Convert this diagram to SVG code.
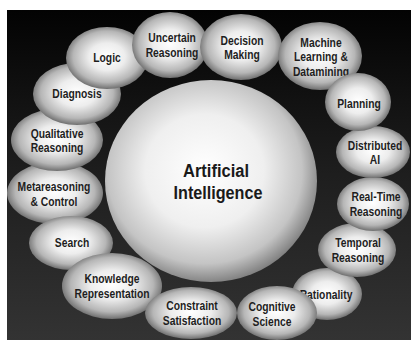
<svg xmlns="http://www.w3.org/2000/svg" width="411" height="340" viewBox="0 0 411 340">
<defs>
<linearGradient id="bg" x1="0" y1="0" x2="0" y2="1">
<stop offset="0" stop-color="#030303"/>
<stop offset="0.5" stop-color="#1e1e1e"/>
<stop offset="1" stop-color="#333333"/>
</linearGradient>
<radialGradient id="eg" cx="0.5" cy="0.48" r="0.55">
<stop offset="0" stop-color="#ffffff"/>
<stop offset="0.4" stop-color="#ededed"/>
<stop offset="0.75" stop-color="#b6b6b6"/>
<stop offset="1" stop-color="#5c5c5c"/>
</radialGradient>
<radialGradient id="cg" cx="0.47" cy="0.45" r="0.56">
<stop offset="0" stop-color="#ffffff"/>
<stop offset="0.5" stop-color="#efefef"/>
<stop offset="0.82" stop-color="#c4c4c4"/>
<stop offset="1" stop-color="#7e7e7e"/>
</radialGradient>
</defs>
<style>
.n{fill:url(#eg);}
.t{font-family:"Liberation Sans",Arial,sans-serif;font-weight:bold;font-size:12px;fill:#1e1e1e;text-anchor:middle;}
.c{font-family:"Liberation Sans",Arial,sans-serif;font-weight:bold;font-size:18px;fill:#1a1a1a;text-anchor:middle;}
</style>
<rect x="0" y="0" width="411" height="340" fill="#ffffff"/>
<rect x="7" y="10" width="404" height="330" fill="url(#bg)"/>
<g id="connectors"/>
<g id="center">
<ellipse cx="211" cy="181" rx="106" ry="101" fill="url(#cg)"/>
<text class="c" x="216" y="177" textLength="66" lengthAdjust="spacingAndGlyphs">Artificial</text>
<text class="c" x="218" y="199" textLength="89" lengthAdjust="spacingAndGlyphs">Intelligence</text>
</g>
<g id="metareasoning">
<ellipse class="n" cx="55" cy="193" rx="48" ry="31"/>
<text class="t" transform="translate(54 191) scale(0.86 1)">Metareasoning</text>
<text class="t" transform="translate(54 206) scale(0.86 1)">&amp; Control</text>
</g>
<g id="search">
<ellipse class="n" cx="71" cy="243" rx="42" ry="27"/>
<text class="t" transform="translate(72 247) scale(0.86 1)">Search</text>
</g>
<g id="knowledge">
<ellipse class="n" cx="112" cy="286" rx="50" ry="33"/>
<text class="t" transform="translate(112 283) scale(0.86 1)">Knowledge</text>
<text class="t" transform="translate(112 298) scale(0.86 1)">Representation</text>
</g>
<g id="constraint">
<ellipse class="n" cx="191" cy="313" rx="46" ry="26"/>
<text class="t" transform="translate(192 310) scale(0.86 1)">Constraint</text>
<text class="t" transform="translate(192 325) scale(0.86 1)">Satisfaction</text>
</g>
<g id="qualitative">
<ellipse class="n" cx="57" cy="140" rx="46" ry="31"/>
<text class="t" transform="translate(57 138) scale(0.86 1)">Qualitative</text>
<text class="t" transform="translate(57 152) scale(0.86 1)">Reasoning</text>
</g>
<g id="diagnosis">
<ellipse class="n" cx="77" cy="94" rx="44" ry="31"/>
<text class="t" transform="translate(77 98) scale(0.86 1)">Diagnosis</text>
</g>
<g id="logic">
<ellipse class="n" cx="107" cy="58" rx="41" ry="31"/>
<text class="t" transform="translate(107 62) scale(0.86 1)">Logic</text>
</g>
<g id="uncertain">
<ellipse class="n" cx="170" cy="45" rx="38" ry="33"/>
<text class="t" transform="translate(172 42) scale(0.86 1)">Uncertain</text>
<text class="t" transform="translate(172 57) scale(0.86 1)">Reasoning</text>
</g>
<g id="decision">
<ellipse class="n" cx="241" cy="47" rx="41" ry="33"/>
<text class="t" transform="translate(242 45) scale(0.86 1)">Decision</text>
<text class="t" transform="translate(242 59) scale(0.86 1)">Making</text>
</g>
<g id="machine">
<ellipse class="n" cx="320" cy="56" rx="42" ry="34"/>
<text class="t" transform="translate(321 47) scale(0.86 1)">Machine</text>
<text class="t" transform="translate(321 61) scale(0.86 1)">Learning &amp;</text>
<text class="t" transform="translate(321 76) scale(0.86 1)">Datamining</text>
</g>
<g id="rationality">
<ellipse class="n" cx="327" cy="294" rx="35" ry="26"/>
<text class="t" transform="translate(326 299) scale(0.86 1)">Rationality</text>
</g>
<g id="temporal">
<ellipse class="n" cx="357" cy="250" rx="39" ry="27"/>
<text class="t" transform="translate(358 247) scale(0.86 1)">Temporal</text>
<text class="t" transform="translate(358 262) scale(0.86 1)">Reasoning</text>
</g>
<g id="realtime">
<ellipse class="n" cx="373" cy="204" rx="36" ry="27"/>
<text class="t" transform="translate(376 201) scale(0.86 1)">Real-Time</text>
<text class="t" transform="translate(376 216) scale(0.86 1)">Reasoning</text>
</g>
<g id="distributed">
<ellipse class="n" cx="373" cy="152" rx="37" ry="26"/>
<text class="t" transform="translate(375 150) scale(0.86 1)">Distributed</text>
<text class="t" transform="translate(375 164) scale(0.86 1)">AI</text>
</g>
<g id="planning">
<ellipse class="n" cx="358" cy="102" rx="33" ry="29"/>
<text class="t" transform="translate(359 108) scale(0.86 1)">Planning</text>
</g>
<g id="cognitive">
<ellipse class="n" cx="277" cy="313" rx="40" ry="27"/>
<text class="t" transform="translate(272 311) scale(0.86 1)">Cognitive</text>
<text class="t" transform="translate(272 326) scale(0.86 1)">Science</text>
</g>
</svg>
